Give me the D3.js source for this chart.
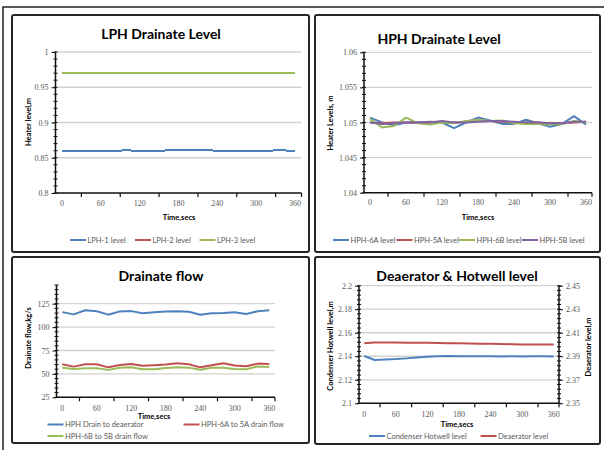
<!DOCTYPE html>
<html>
<head>
<meta charset="utf-8">
<script src="https://cdn.jsdelivr.net/npm/d3@7"></script>
<style>
  body { margin: 0; background: #fff; }
  svg { display: block; }
</style>
</head>
<body>
<div id="chart"></div>
<script>
// time categories, one point every 20 s
var times = [0, 20, 40, 60, 80, 100, 120, 140, 160, 180, 200, 220, 240, 260, 280, 300, 320, 340, 360];
var timeLabels = [0, 60, 120, 180, 240, 300, 360];

// LPH drainate level, m
var lph1 = [0.860, 0.860, 0.860, 0.860, 0.860, 0.8604, 0.860, 0.860, 0.8603, 0.8604, 0.8604, 0.8604, 0.8602, 0.860, 0.860, 0.860, 0.8602, 0.8604, 0.860];
var lph2 = [0.970, 0.970, 0.970, 0.970, 0.970, 0.970, 0.970, 0.970, 0.970, 0.970, 0.970, 0.970, 0.970, 0.970, 0.970, 0.970, 0.970, 0.970, 0.970];
var lph3 = [0.970, 0.970, 0.970, 0.970, 0.970, 0.970, 0.970, 0.970, 0.970, 0.970, 0.970, 0.970, 0.970, 0.970, 0.970, 0.970, 0.970, 0.970, 0.970];
var lphTicks = [0.8, 0.85, 0.9, 0.95, 1];

// HPH drainate level, m
var hph6a = [1.0507, 1.0500, 1.0496, 1.0500, 1.0500, 1.0501, 1.0500, 1.0492, 1.0500, 1.0507, 1.0503, 1.0498, 1.0498, 1.0504, 1.0499, 1.0494, 1.0498, 1.0509, 1.0497];
var hph5a = [1.0500, 1.0499, 1.0500, 1.0500, 1.0500, 1.0500, 1.0501, 1.0500, 1.0501, 1.0502, 1.0502, 1.0501, 1.0500, 1.0500, 1.0500, 1.0499, 1.0499, 1.0500, 1.0501];
var hph6b = [1.0505, 1.0493, 1.0495, 1.0507, 1.0499, 1.0497, 1.0500, 1.0499, 1.0502, 1.0504, 1.0502, 1.0503, 1.0499, 1.0498, 1.0498, 1.0497, 1.0498, 1.0502, 1.0500];
var hph5b = [1.0500, 1.0498, 1.0499, 1.0500, 1.0500, 1.0500, 1.0502, 1.0500, 1.0500, 1.0501, 1.0502, 1.0502, 1.0501, 1.0500, 1.0500, 1.0499, 1.0499, 1.0501, 1.0501];
var hphTicks = [1.04, 1.045, 1.05, 1.055, 1.06];

// drainate flow, kg/s
var flowDeaerator = [116, 113.6, 118, 117, 113.3, 116.8, 117.1, 114.7, 116, 116.8, 117, 116.5, 113.3, 114.7, 115, 116, 114, 117, 118];
var flow6a5a = [60.3, 57.8, 60.3, 60.3, 57, 59.5, 60.7, 58.6, 59.2, 60, 61.3, 60.3, 57, 59.2, 61.3, 58.9, 58.2, 61, 60.7];
var flow6b5b = [56.7, 55.3, 56, 56, 54.3, 56.5, 57, 55, 55, 56.3, 57, 56.7, 54.5, 56.5, 56.7, 55.3, 55, 58, 57.3];
var flowTicks = [25, 50, 75, 100, 125];

// deaerator & hotwell level, m
var hotwell = [2.1402, 2.1368, 2.1372, 2.1376, 2.1382, 2.1389, 2.1396, 2.1400, 2.1402, 2.1400, 2.1401, 2.1400, 2.1401, 2.1399, 2.1400, 2.1399, 2.1401, 2.1400, 2.1399];
var deaerator = [2.4010, 2.4018, 2.4017, 2.4016, 2.4015, 2.4015, 2.4014, 2.4012, 2.4011, 2.4010, 2.4008, 2.4007, 2.4006, 2.4004, 2.4003, 2.4001, 2.4000, 2.3999, 2.3999];
var hotwellTicks = [2.1, 2.12, 2.14, 2.16, 2.18, 2.2];
var deaeratorTicks = [2.35, 2.37, 2.39, 2.41, 2.43, 2.45];

var blue = '#4F81BD', red = '#C0504D', green = '#9BBB59', purple = '#8064A2';
var sans = 'Lato, "Open Sans", sans-serif';
var serif = '"Liberation Serif", serif';

var svg = d3.select('#chart')
  .append('svg')
  .attr('width', 604)
  .attr('height', 450);

// outer frame (only top and left edges are inside the picture)
svg.append('path')
  .attr('d', 'M3,450 V7 H604')
  .attr('fill', 'none')
  .attr('stroke', '#222')
  .attr('stroke-width', 1.5);

function minorValues(domain, step) {
  var out = [];
  var n = Math.round((domain[1] - domain[0]) / step);
  for (var i = 0; i <= n; i++) out.push(domain[0] + i * step);
  return out;
}

var drawPanel = function(p) {
  var g = svg.append('g');

  g.append('rect')
    .attr('x', p.box[0]).attr('y', p.box[1])
    .attr('width', p.box[2] - p.box[0]).attr('height', p.box[3] - p.box[1])
    .attr('rx', 2)
    .attr('fill', '#fff')
    .attr('stroke', '#262626')
    .attr('stroke-width', 2);

  g.append('text')
    .attr('x', p.titlePos[0]).attr('y', p.titlePos[1])
    .attr('text-anchor', 'middle')
    .attr('dominant-baseline', 'central')
    .style('font', 'bold ' + p.titleSize + 'px ' + sans)
    .text(p.title);

  var band = d3.scaleBand().domain(times).range([p.left, p.right]);
  var x = function(t) { return band(t) + band.bandwidth() / 2; };
  var y = d3.scaleLinear().domain(p.yDomain).range([p.bottom, p.top]);

  // gridlines
  g.selectAll('.grid')
    .data(p.yTicks.slice(1))
    .enter().append('line')
    .attr('x1', p.left).attr('x2', p.right)
    .attr('y1', function(d) { return y(d); })
    .attr('y2', function(d) { return y(d); })
    .attr('stroke', '#d2d2d2')
    .attr('stroke-width', 1.3);

  // left axis
  var yAxis = d3.axisLeft(y).tickValues(p.yTicks).tickSize(4).tickPadding(3).tickFormat(p.fmt);
  var ya = g.append('g').attr('transform', 'translate(' + p.left + ',0)').call(yAxis);
  ya.select('.domain').attr('d', 'M0,' + p.top + 'V' + p.bottom).attr('stroke', '#111').attr('stroke-width', 1.5);
  ya.selectAll('text').style('font', '8px ' + serif).attr('fill', '#595959');
  ya.selectAll('line').attr('stroke', '#111');
  g.selectAll('.minorL')
    .data(minorValues(p.yDomain, p.minor))
    .enter().append('line')
    .attr('x1', p.left - 2).attr('x2', p.left + 2)
    .attr('y1', function(d) { return y(d); })
    .attr('y2', function(d) { return y(d); })
    .attr('stroke', '#111').attr('stroke-width', 1);

  var y2 = null;
  if (p.y2Domain) {
    y2 = d3.scaleLinear().domain(p.y2Domain).range([p.bottom, p.top]);
    var yAxis2 = d3.axisRight(y2).tickValues(p.y2Ticks).tickSize(4).tickPadding(3).tickFormat(p.fmt2);
    var yb = g.append('g').attr('transform', 'translate(' + p.right + ',0)').call(yAxis2);
    yb.select('.domain').attr('d', 'M0,' + p.top + 'V' + p.bottom).attr('stroke', '#111').attr('stroke-width', 1.5);
    yb.selectAll('text').style('font', '8px ' + serif).attr('fill', '#595959');
    yb.selectAll('line').attr('stroke', '#111');
    g.selectAll('.minorR')
      .data(minorValues(p.y2Domain, p.minor2))
      .enter().append('line')
      .attr('x1', p.right - 2).attr('x2', p.right + 2)
      .attr('y1', function(d) { return y2(d); })
      .attr('y2', function(d) { return y2(d); })
      .attr('stroke', '#111').attr('stroke-width', 1);
  }

  // bottom axis
  g.append('line')
    .attr('x1', p.left).attr('x2', p.right)
    .attr('y1', p.bottom).attr('y2', p.bottom)
    .attr('stroke', '#111').attr('stroke-width', 1.5);
  var tickAt = times.filter(function(d, i) { return (i + 1) % 3 === 0; })
                    .map(function(d) { return band(d); });
  tickAt.push(p.right);
  g.selectAll('.xtick')
    .data(tickAt)
    .enter().append('line')
    .attr('x1', function(d) { return d; }).attr('x2', function(d) { return d; })
    .attr('y1', p.bottom).attr('y2', p.bottom + 4)
    .attr('stroke', '#111').attr('stroke-width', 1.2);
  g.selectAll('.xlab')
    .data(timeLabels)
    .enter().append('text')
    .attr('x', function(d) { return x(d); })
    .attr('y', p.bottom + p.xLabGap)
    .attr('text-anchor', 'middle')
    .attr('dominant-baseline', 'central')
    .attr('fill', '#595959')
    .style('font', '8px ' + serif)
    .text(function(d) { return d; });

  g.append('text')
    .attr('x', p.xTitlePos[0]).attr('y', p.xTitlePos[1])
    .attr('text-anchor', 'middle')
    .attr('dominant-baseline', 'central')
    .style('font', 'bold 7.5px ' + sans)
    .text('Time,secs');

  g.append('text')
    .attr('transform', 'translate(' + p.yTitlePos[0] + ',' + p.yTitlePos[1] + ')rotate(-90)')
    .attr('text-anchor', 'middle')
    .attr('dominant-baseline', 'central')
    .style('font', 'bold 7.5px ' + sans)
    .text(p.yTitle);
  if (p.y2Title) {
    g.append('text')
      .attr('transform', 'translate(' + p.y2TitlePos[0] + ',' + p.y2TitlePos[1] + ')rotate(-90)')
      .attr('text-anchor', 'middle')
      .attr('dominant-baseline', 'central')
      .style('font', 'bold 7.5px ' + sans)
      .text(p.y2Title);
  }

  // series
  p.series.forEach(function(s) {
    var sy = s.right ? y2 : y;
    var line = d3.line()
      .x(function(d, i) { return x(times[i]); })
      .y(function(d) { return sy(d); });
    g.append('path')
      .datum(s.values)
      .attr('d', line)
      .attr('fill', 'none')
      .attr('stroke', s.color)
      .attr('stroke-width', 2)
      .attr('stroke-linejoin', 'round')
      .attr('shape-rendering', p.crisp ? 'crispEdges' : null);

    // legend entry
    g.append('line')
      .attr('x1', s.leg[0]).attr('x2', s.leg[0] + 16)
      .attr('y1', s.leg[1]).attr('y2', s.leg[1])
      .attr('stroke', s.color).attr('stroke-width', 2);
    g.append('text')
      .attr('x', s.leg[0] + 17.5).attr('y', s.leg[1])
      .attr('dominant-baseline', 'central')
      .attr('fill', '#595959')
      .style('font', '7.5px ' + sans)
      .text(s.name);
  });
};

drawPanel({
  box: [12, 15, 309, 252],
  title: 'LPH Drainate Level', titlePos: [161, 33], titleSize: 14,
  left: 55.5, right: 301.5, top: 52, bottom: 193,
  yDomain: [0.8, 1], yTicks: lphTicks, minor: 0.01, fmt: d3.format(''),
  xLabGap: 10, xTitlePos: [179, 217],
  yTitle: 'Heater level,m', yTitlePos: [28.5, 122],
  crisp: true,
  series: [
    { name: 'LPH-1 level', values: lph1, color: blue, leg: [70, 240] },
    { name: 'LPH-2 level', values: lph2, color: red, leg: [135, 240] },
    { name: 'LPH-3 level', values: lph3, color: green, leg: [199.5, 240] }
  ]
});

drawPanel({
  box: [315, 15, 600, 252],
  title: 'HPH Drainate Level', titlePos: [439, 38], titleSize: 14,
  left: 364, right: 592, top: 52.3, bottom: 192.7,
  yDomain: [1.04, 1.06], yTicks: hphTicks, minor: 0.001, fmt: d3.format(''),
  xLabGap: 10, xTitlePos: [478, 217],
  yTitle: 'Heater Levels, m', yTitlePos: [330, 123],
  series: [
    { name: 'HPH-6A level', values: hph6a, color: blue, leg: [333, 240] },
    { name: 'HPH-5A level', values: hph5a, color: red, leg: [396.5, 240] },
    { name: 'HPH-6B level', values: hph6b, color: green, leg: [459, 240] },
    { name: 'HPH-5B level', values: hph5b, color: purple, leg: [522, 240] }
  ]
});

drawPanel({
  box: [12, 257, 309, 443],
  title: 'Drainate flow', titlePos: [161, 275], titleSize: 14,
  left: 56.5, right: 275, top: 285, bottom: 397.3,
  yDomain: [25, 145], yTicks: flowTicks, minor: 5, fmt: d3.format(''),
  xLabGap: 11, xTitlePos: [154, 416],
  yTitle: 'Drainate flow,kg/s', yTitlePos: [28.5, 338],
  series: [
    { name: 'HPH Drain to deaerator', values: flowDeaerator, color: blue, leg: [47.5, 424.5] },
    { name: 'HPH-6A to 5A drain flow', values: flow6a5a, color: red, leg: [183.5, 424.5] },
    { name: 'HPH-6B to 5B drain flow', values: flow6b5b, color: green, leg: [47.5, 436] }
  ]
});

drawPanel({
  box: [315, 257, 600, 444],
  title: 'Deaerator & Hotwell level', titlePos: [457, 275], titleSize: 14,
  left: 359, right: 559, top: 285.7, bottom: 403.3,
  yDomain: [2.1, 2.2], yTicks: hotwellTicks, minor: 0.004, fmt: d3.format(''),
  y2Domain: [2.35, 2.45], y2Ticks: deaeratorTicks, minor2: 0.004, fmt2: d3.format(''),
  xLabGap: 11, xTitlePos: [457, 424.5],
  yTitle: 'Condenser Hotwell level,m', yTitlePos: [330, 346],
  y2Title: 'Deaerator level,m', y2TitlePos: [588, 347],
  series: [
    { name: 'Condenser Hotwell level', values: hotwell, color: blue, leg: [369, 436] },
    { name: 'Deaerator level', values: deaerator, color: red, right: true, leg: [480.5, 436] }
  ]
});
</script>
</body>
</html>
